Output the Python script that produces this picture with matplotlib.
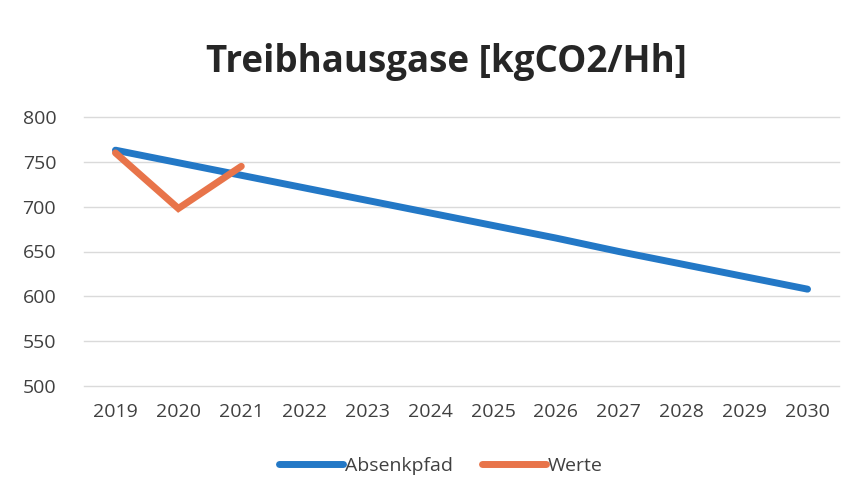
import matplotlib.pyplot as plt

# Datos del gráfico
jahre = ['2019', '2020', '2021', '2022', '2023', '2024', '2025', '2026',
         '2027', '2028', '2029', '2030']
absenkpfad = [763, 749, 735, 721, 707, 693, 679, 665, 650, 636, 622, 608]
werte = [760, 698, 745]

azul = '#2378C6'
naranja = '#E8744A'
gris = '#404040'

plt.rcParams['font.family'] = ['Open Sans', 'DejaVu Sans']

fig = plt.figure(figsize=(8.56, 5.01), dpi=100)
ax = fig.add_axes([84 / 856, 1 - 386 / 501, (839 - 84) / 856, (386 - 117) / 501])

x = list(range(len(jahre)))
ax.plot(x, absenkpfad, color=azul, lw=5, solid_capstyle='round', label='Absenkpfad', zorder=3)
ax.plot(x[:len(werte)], werte, color=naranja, lw=5, solid_capstyle='round',
        solid_joinstyle='miter', label='Werte', zorder=4)

ax.set_xlim(-0.5, len(jahre) - 0.5)
ax.set_ylim(500, 800)
ax.set_yticks(range(500, 801, 50))
ax.set_xticks(x)
ax.set_xticklabels(jahre)
ax.grid(axis='y', color='#DADADA', lw=1)
for linea in ax.get_ygridlines():
    linea.set_clip_on(False)
ax.set_axisbelow(True)
for s in ax.spines.values():
    s.set_visible(False)
ax.tick_params(length=0, labelsize=14, labelcolor=gris, pad=12)
ax.tick_params(axis='y', pad=20)

fig.text(0.522, 1 - 62 / 501, 'Treibhausgase [kgCO2/Hh]', ha='center', va='center',
         fontsize=26.5, fontweight='bold', color='#262626')

fig.legend(loc='center', bbox_to_anchor=(0.515, 1 - 466 / 501), ncol=2, frameon=False,
           fontsize=14, handlelength=3.3, handletextpad=0.1, columnspacing=1.5,
           labelcolor=gris)

fig.savefig('out.png', dpi=100)
